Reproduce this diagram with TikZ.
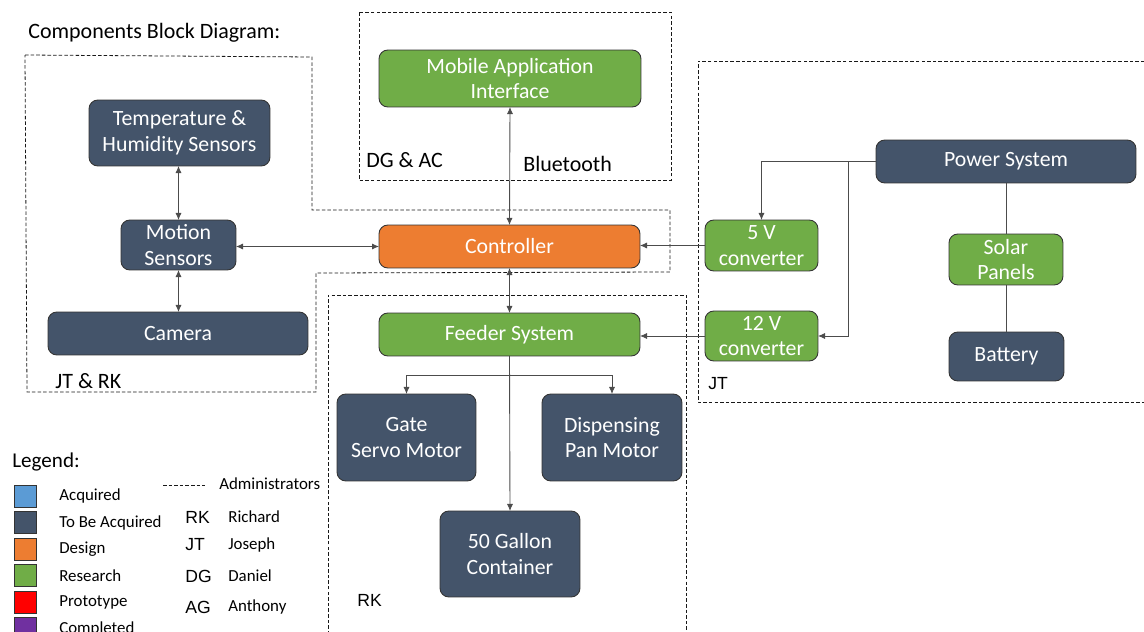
\documentclass[tikz,border=0pt]{standalone}
\usepackage{fontspec}
\setmainfont{Carlito}
\newfontfamily\arialfont{Liberation Sans}
\usetikzlibrary{arrows.meta}

\definecolor{slate}{HTML}{44546A}
\definecolor{leaf}{HTML}{70AD47}
\definecolor{amber}{HTML}{ED7D31}
\definecolor{sky}{HTML}{5B9BD5}
\definecolor{plum}{HTML}{7030A0}

\tikzset{
    block/.style={draw=black!80, line width=0.5pt, rounded corners=5pt, text=white,
        inner sep=0pt, outer sep=0pt, align=center, font=\fontsize{12.4}{14.7}\selectfont},
    todo/.style={block, fill=slate},
    study/.style={block, fill=leaf},
    build/.style={block, fill=amber},
    team/.style={draw=black!90, line width=0.45pt, dash pattern=on 2pt off 1.2pt},
    wire/.style={draw=black!70, line width=0.5pt},
    link/.style={wire, -{Latex[length=4pt,width=3.5pt]}},
    both/.style={wire, {Latex[length=4pt,width=3.5pt]}-{Latex[length=4pt,width=3.5pt]}},
    key/.style={draw=black!80, line width=0.5pt, minimum size=0.44cm, inner sep=0pt},
    keytext/.style={anchor=west, inner sep=0pt, font=\fontsize{9.6}{11}\selectfont},
    tag/.style={anchor=west, inner sep=0pt, font=\fontsize{12.5}{14}\selectfont},
    ini/.style={anchor=west, inner sep=0pt, font=\arialfont\fontsize{10}{12}\selectfont}
}

\begin{document}
\begin{tikzpicture}[x=0.02cm, y=-0.02cm]
        \useasboundingbox (0, 0) rectangle (1144, 632);

        % team areas
        \draw[team] (25, 55) -- (312, 57) -- (312, 210) -- (670, 210) -- (670, 272)
            -- (316, 273) -- (316, 392) -- (27, 392) -- cycle;
        \draw[team] (359, 12) rectangle (671, 180);
        \draw[team] (1150, 61) -- (698, 61) -- (698, 402) -- (1150, 402);
        \draw[team] (328, 640) -- (328, 295) -- (686, 295) -- (686, 640);

        \node[tag] (title) at (28, 33) {Components Block Diagram:};
        \node[tag] (grpa) at (55, 381) {JT \& RK};
        \node[tag] (grpb) at (366, 160) {DG \& AC};
        \node[ini] (grpc) at (708, 384) {JT};
        \node[ini] (grpd) at (357, 600) {RK};
        \node[tag] (bt) at (523, 164) {Bluetooth};

        % blocks
        \node[todo, minimum width=3.62cm, minimum height=1.32cm] (temp) at (179.5, 133) {Temperature \&\\Humidity Sensors};
        \node[todo, minimum width=2.30cm, minimum height=1.00cm] (motion) at (178.5, 245) {Motion\\Sensors};
        \node[todo, minimum width=5.20cm, minimum height=0.86cm] (camera) at (178, 333.5) {Camera};
        \node[study, minimum width=5.24cm, minimum height=1.14cm] (mobile) at (510, 78.5) {Mobile Application\\Interface};
        \node[build, minimum width=5.22cm, minimum height=0.86cm] (ctrl) at (509.5, 246.5) {Controller};
        \node[study, minimum width=5.22cm, minimum height=0.86cm] (feeder) at (509.5, 334.5) {Feeder System};
        \node[todo, minimum width=2.78cm, minimum height=1.74cm] (gate) at (406.5, 437.5) {Gate\\Servo Motor};
        \node[todo, minimum width=2.80cm, minimum height=1.74cm] (pan) at (612, 437.5) {Dispensing\\Pan Motor};
        \node[todo, minimum width=2.80cm, minimum height=1.72cm] (tank) at (510, 554) {50 Gallon\\Container};
        \node[study, minimum width=2.26cm, minimum height=1.02cm] (five) at (761.5, 245.5) {5 V\\converter};
        \node[study, minimum width=2.26cm, minimum height=1.00cm] (twelve) at (761.5, 336) {12 V\\converter};
        \node[todo, minimum width=5.20cm, minimum height=0.86cm] (power) at (1006, 161.5) {Power System};
        \node[study, minimum width=2.28cm, minimum height=1.02cm] (solar) at (1006, 259.5) {Solar\\Panels};
        \node[todo, minimum width=2.30cm, minimum height=0.98cm] (battery) at (1006.5, 356.5) {Battery};

        % connections
        \draw[both] (temp.south -| motion.north) -- (motion.north);
        \draw[both] (motion.south) -- (motion.south |- camera.north);
        \draw[both] (ctrl.west) -- (ctrl.west -| motion.east);
        \draw[both] (ctrl.north) -- (mobile.south);
        \draw[both] (ctrl.south) -- (feeder.north);
        \draw[link] (five.west) -- (five.west -| ctrl.east);
        \draw[link] (twelve.west) -- (twelve.west -| feeder.east);
        \draw[link] (power.west) -| (five.north);
        \coordinate (split) at (848, 161.5);
        \draw[link] (split) |- (twelve.east);
        \draw[wire] (power.south) -- (solar.north);
        \draw[wire] (solar.south) -- (solar.south |- battery.north);
        \coordinate (fork) at (509.5, 375);
        \draw[link] (feeder.south) -- (tank.north);
        \draw[link] (fork) -| (gate.north);
        \draw[link] (fork) -| (pan.north);

        % legend
        \node[tag, font=\fontsize{12}{13}\selectfont] (legend) at (12, 462) {Legend:};
        \foreach \shade/\word [count=\i] in {sky/Acquired, slate/To Be Acquired, amber/Design,
                leaf/Research, red/Prototype, plum/Completed} {
            \pgfmathsetmacro{\y}{496 + 26.5*(\i - 1)}
            \node[key, fill=\shade] (key\i) at (25, \y) {};
            \node[keytext] (word\i) at (59, \y) {\word};
        }
        \coordinate (dashl) at (163, 485);
        \coordinate (dashr) at (205, 485);
        \draw[team] (dashl) -- (dashr);
        \node[keytext] (admins) at (219, 484) {Administrators};
        \foreach \name/\who/\y in {RK/Richard/517, JT/Joseph/545, DG/Daniel/576, AG/Anthony/607} {
            \node[ini] (ini\name) at (185, \y) {\name};
            \node[keytext] (who\name) at (228, \y) {\who};
        }
    \end{tikzpicture}
\end{document}
